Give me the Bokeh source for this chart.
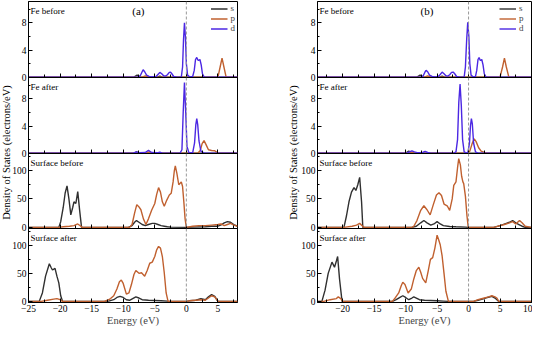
import math
from bokeh.plotting import figure
from bokeh.layouts import row, column, Spacer
from bokeh.models import Range1d, SingleIntervalTicker, Span, Label
from bokeh.embed import file_html
from bokeh.resources import INLINE

FONT = "Liberation Serif"
S_COL, P_COL, D_COL = "#303030", "#c0602f", "#4b27e3"

# ---------------- Panel (a) data ----------------
E_A_FEB_S = [-25, -8.3, -7.8, -7.3, -4.6, -4.2, -3.8, 8.1]
Y_A_FEB_S = [0, 0, 0.3, 0, 0, 0.15, 0, 0]
E_A_FEB_P = [-25, -7.0, -6.5, -6.0, 5.0, 5.35, 5.65, 5.95, 6.3, 8.1]
Y_A_FEB_P = [0, 0, 0.2, 0, 0, 1.5, 2.8, 1.5, 0, 0]
E_A_FEB_D = [-25, -7.7, -7.3, -7.0, -6.85, -6.6, -6.3, -5.9, -5.4, -4.8, -4.5, -4.2, -3.9, -3.6, -3.3,
             -3.0, -2.7, -2.5, -2.3, -2.0, -1.5, -0.8, -0.6, -0.45, -0.3, -0.15, 0.0, 0.2, 0.5, 1.0,
             1.25, 1.45, 1.65, 1.85, 2.0, 2.15, 2.35, 2.55, 2.8, 3.2, 8.1]
Y_A_FEB_D = [0, 0, 0.2, 0.8, 1.1, 0.8, 0.3, 0.1, 0.05, 0.1, 0.4, 0.7, 0.5, 0.2, 0.15,
             0.35, 0.7, 0.75, 0.5, 0.1, 0, 0, 1.5, 5.5, 8.0, 6.0, 2.0, 0.3, 0.05, 0.1,
             1.0, 2.6, 2.9, 2.5, 2.5, 2.6, 1.8, 0.5, 0.05, 0, 0]

E_A_FEA_S = [-25, -8.3, -7.9, -7.5, 8.1]
Y_A_FEA_S = [0, 0, 0.2, 0, 0]
E_A_FEA_P = [-25, -6.3, -5.9, -5.5, 1.8, 2.2, 2.5, 2.8, 3.1, 3.5, 4.0, 4.5, 5.0, 8.1]
Y_A_FEA_P = [0, 0, 0.2, 0, 0, 0.4, 1.4, 1.85, 1.3, 0.5, 0.4, 0.35, 0, 0]
E_A_FEA_D = [-25, -8.4, -7.9, -7.4, -6.5, -6.0, -5.5, -4.6, -4.2, -3.8, -1.0, -0.7, -0.5, -0.3,
             -0.1, 0.1, 0.4, 1.0, 1.3, 1.5, 1.65, 1.8, 2.0, 2.3, 2.8, 8.1]
Y_A_FEA_D = [0, 0, 0.2, 0.05, 0.1, 0.4, 0.1, 0.05, 0.15, 0, 0, 0.5, 6.0, 10.4,
             6.0, 1.0, 0.05, 0.05, 1.5, 4.2, 5.1, 4.2, 1.8, 0.3, 0, 0]

E_A_SB_S = [-25, -20.2, -19.9, -19.5, -19.2, -18.9, -18.6, -18.3, -18.0, -17.8, -17.5, -17.2, -16.9,
            -16.6, -9.2, -8.6, -8.2, -7.9, -7.5, -7.0, -6.5, -6.0, -5.4, -5.0, -4.5, -4.0, -3.5,
            -3.0, -2.5, 0.0, 1.0, 3.0, 4.0, 5.0, 5.6, 6.0, 6.5, 7.0, 7.5, 8.1]
Y_A_SB_S = [0, 0, 10, 35, 60, 73, 50, 22, 35, 45, 42, 63, 30,
            0, 0, 3, 9, 12, 9, 5, 3, 5, 7, 7, 5, 3, 2,
            1, 0.5, 0, 0.5, 1, 2, 2, 5, 8, 10, 9, 5, 2]
E_A_SB_P = [-25, -20.2, -19.5, -18.5, -17.8, -17.2, -16.7, -16.5, -9.0, -8.6, -8.2, -7.85, -7.5,
            -7.2, -6.8, -6.4, -6.0, -5.5, -5.0, -4.7, -4.4, -4.1, -3.8, -3.5, -3.1, -2.7, -2.4,
            -2.1, -1.9, -1.75, -1.5, -1.2, -0.95, -0.8, -0.6, -0.4, -0.2, 0.0, 1.0, 2.0, 3.0,
            4.0, 5.0, 5.5, 6.0, 6.5, 7.0, 7.5, 8.1]
Y_A_SB_P = [0, 0, 1, 2, 3, 6, 2, 0, 0, 5, 25, 40, 36,
            31, 15, 5, 15, 30, 42, 58, 70, 62, 45, 37, 48, 57, 60,
            80, 100, 108, 95, 75, 78, 80, 72, 45, 15, 0, 2, 3, 3,
            4, 5, 6, 3, 5, 7, 4, 2]

E_A_SA_S = [-25, -23.3, -22.8, -22.3, -21.7, -21.4, -21.2, -20.8, -20.5, -20.2, -19.9, -19.6,
            -12.3, -11.5, -11.0, -10.5, -10.0, -9.5, -9.0, -8.5, -8.0, -7.5, -7.0, -6.0, -5.0,
            -4.0, -3.0, -2.8, 0.0, 0.5, 1.5, 2.3, 3.0, 3.5, 4.0, 4.5, 5.0, 8.1]
Y_A_SA_S = [0, 0, 15, 45, 67, 60, 56, 59, 45, 33, 10, 0,
            0.5, 3, 7, 9, 7, 3, 2, 5, 8, 6, 3, 2, 1.5,
            1, 0.5, 0, 0, 1, 2, 5, 3, 8, 12, 9, 0, 0]
E_A_SA_P = [-25, -23.0, -22.0, -21.0, -20.5, -20.0, -19.6, -13.0, -12.5, -12.0, -11.5, -11.0,
            -10.6, -10.3, -10.0, -9.5, -9.1, -8.7, -8.3, -8.0, -7.5, -7.1, -6.6, -6.2, -5.8,
            -5.4, -5.0, -4.7, -4.4, -4.1, -3.8, -3.5, -3.2, -2.9, 0.0, 0.5, 1.5, 2.5, 3.0, 3.5,
            4.0, 4.5, 5.0, 8.1]
Y_A_SA_P = [0, 0, 2, 4, 5, 3, 0, 0, 2, 5, 10, 22,
            35, 38, 32, 13, 15, 30, 48, 55, 50, 51, 45, 55, 68,
            70, 80, 92, 98, 95, 80, 51, 15, 0, 0, 1, 2, 3, 2, 6,
            10, 8, 0, 0]

# ---------------- Panel (b) data ----------------
E_B_FEB_S = [-24, -8.2, -7.7, -7.2, -4.6, -4.2, -3.8, 10]
Y_B_FEB_S = [0, 0, 0.3, 0, 0, 0.15, 0, 0]
E_B_FEB_P = [-24, -7.0, -6.5, -6.0, 5.0, 5.4, 5.7, 6.0, 6.4, 10]
Y_B_FEB_P = [0, 0, 0.2, 0, 0, 1.5, 2.8, 1.5, 0, 0]
E_B_FEB_D = [-24, -7.6, -7.2, -6.9, -6.75, -6.5, -6.2, -5.8, -5.3, -4.8, -4.5, -4.2, -3.9, -3.6,
             -3.3, -3.0, -2.7, -2.45, -2.2, -1.9, -1.4, -0.7, -0.5, -0.3, -0.13, 0.05, 0.2, 0.4,
             0.7, 1.1, 1.3, 1.5, 1.67, 1.85, 2.0, 2.1, 2.3, 2.5, 2.75, 3.2, 10]
Y_B_FEB_D = [0, 0, 0.2, 0.8, 1.0, 0.8, 0.3, 0.1, 0.05, 0.1, 0.4, 0.75, 0.5, 0.2,
             0.15, 0.35, 0.7, 0.75, 0.5, 0.1, 0, 0, 1.5, 5.5, 8.1, 6.0, 2.0, 0.3,
             0.05, 0.1, 1.0, 2.6, 2.9, 2.5, 2.5, 2.6, 1.8, 0.5, 0.05, 0, 0]

E_B_FEA_S = [-24, -10.0, -9.5, -9.0, 10]
Y_B_FEA_S = [0, 0, 0.3, 0, 0]
E_B_FEA_P = [-24, -9.5, -9.0, -8.5, -0.2, 0.2, 0.6, 0.9, 1.2, 1.6, 2.0, 2.5, 3.0, 10]
Y_B_FEA_P = [0, 0, 0.15, 0, 0, 0.3, 1.5, 2.1, 1.7, 0.8, 0.3, 0.1, 0, 0]
E_B_FEA_D = [-24, -9.8, -9.4, -9.0, -8.6, -8.0, -7.3, -6.9, -6.5, -6.0, -2.3, -2.0, -1.75, -1.55,
             -1.35, -1.15, -0.95, -0.7, -0.3, -0.1, 0.15, 0.3, 0.45, 0.6, 0.8, 1.1, 1.5, 10]
Y_B_FEA_D = [0, 0, 0.2, 0.35, 0.2, 0.05, 0.1, 0.25, 0.1, 0, 0, 0.2, 2.0, 7.5,
             10.2, 7.0, 2.0, 0.2, 0, 0.1, 1.5, 4.0, 5.1, 4.3, 1.5, 0.2, 0, 0]

E_B_SB_S = [-24, -19.8, -19.4, -19.0, -18.6, -18.2, -17.9, -17.6, -17.3, -17.0, -16.8, -9.0, -8.3,
            -7.6, -7.1, -6.6, -6.0, -5.5, -5.0, -4.5, -4.0, -3.0, -2.0, -0.5, 0.0, 4.0, 5.0, 6.0,
            6.5, 7.0, 7.5, 8.0, 8.5, 9.0, 10]
Y_B_SB_S = [0, 0, 20, 45, 62, 70, 65, 75, 88, 45, 0, 0, 2,
            8, 12, 8, 4, 6, 10, 6, 3, 1.5, 1, 0.5, 0, 0, 3, 7,
            9, 12, 8, 5, 2, 0, 0]
E_B_SB_P = [-24, -19.8, -18.5, -17.8, -17.3, -16.9, -16.6, -9.0, -8.7, -8.2, -7.6, -7.1, -6.6,
            -6.1, -5.6, -5.1, -4.7, -4.3, -3.9, -3.4, -3.0, -2.6, -2.35, -2.0, -1.75, -1.56, -1.3,
            -1.1, -0.9, -0.77, -0.5, -0.25, -0.05, 4.0, 5.0, 5.7, 6.5, 7.0, 7.5, 8.1, 8.5, 9.0, 10]
Y_B_SB_P = [0, 0, 2, 4, 7, 3, 0, 0, 2, 12, 30, 38, 31,
            22, 40, 57, 61, 56, 41, 38, 30, 50, 74, 80, 105, 121, 110,
            90, 80, 77, 55, 20, 0, 0, 3, 5, 8, 10, 6, 12, 8, 2, 0]

E_B_SA_S = [-24, -23.3, -22.8, -22.3, -21.7, -21.3, -21.0, -20.8, -20.5, -20.1, -12.1, -11.5,
            -10.9, -10.45, -10.0, -9.5, -9.0, -8.7, -8.3, -7.8, -7.0, -6.0, -5.0, -4.0, -3.2,
            0.0, 0.8, 1.5, 2.5, 3.0, 3.7, 4.2, 4.8, 10]
Y_B_SA_S = [0, 0, 20, 50, 70, 61, 72, 80, 40, 0, 0, 3,
            7, 10, 7, 3, 6, 8, 6, 3, 2, 1.5, 1, 0.5, 0,
            0, 0, 2, 5, 7, 9, 6, 0, 0]
E_B_SA_P = [-24, -23.0, -22.0, -21.0, -20.7, -20.3, -20.0, -12.1, -11.6, -11.1, -10.7, -10.45,
            -10.1, -9.6, -9.1, -8.7, -8.3, -7.9, -7.6, -7.3, -6.8, -6.4, -6.06, -5.7, -5.35,
            -5.0, -4.75, -4.5, -4.2, -3.9, -3.6, -3.2, 0.0, 0.8, 1.5, 2.5, 3.2, 3.7, 4.2, 4.5,
            4.8, 10]
Y_B_SA_P = [0, 0, 3, 5, 8, 5, 0, 0, 7, 15, 28, 34,
            30, 15, 22, 40, 55, 61, 52, 41, 33, 55, 75, 78, 95,
            118, 110, 101, 81, 50, 18, 0, 0, 0, 3, 6, 8, 10, 8, 6,
            0, 0]

SUB_TITLES = ["Fe before", "Fe after", "Surface before", "Surface after"]
SUB_KINDS = ["fe", "fe", "surf", "surf"]
Y_LIMITS = {"fe": (-0.05, 11.15), "surf": (-2.0, 130.0)}
Y_INTERVAL = {"fe": 4, "surf": 50}
ORBITALS = ["s", "p", "d"]
COLORS = [S_COL, P_COL, D_COL]
X_TICKS = [-25, -20, -15, -10, -5, 0, 5, 10]
X_TICK_LABELS = ["\u221225", "\u221220", "\u221215", "\u221210", "\u22125", "0", "5", "10"]
FERMI = 0
YLABEL = "Density of States (electrons/eV)"
XLABEL = "Energy (eV)"

PANEL_A = [
    [(E_A_FEB_S, Y_A_FEB_S), (E_A_FEB_P, Y_A_FEB_P), (E_A_FEB_D, Y_A_FEB_D)],
    [(E_A_FEA_S, Y_A_FEA_S), (E_A_FEA_P, Y_A_FEA_P), (E_A_FEA_D, Y_A_FEA_D)],
    [(E_A_SB_S, Y_A_SB_S), (E_A_SB_P, Y_A_SB_P)],
    [(E_A_SA_S, Y_A_SA_S), (E_A_SA_P, Y_A_SA_P)],
]
PANEL_B = [
    [(E_B_FEB_S, Y_B_FEB_S), (E_B_FEB_P, Y_B_FEB_P), (E_B_FEB_D, Y_B_FEB_D)],
    [(E_B_FEA_S, Y_B_FEA_S), (E_B_FEA_P, Y_B_FEA_P), (E_B_FEA_D, Y_B_FEA_D)],
    [(E_B_SB_S, Y_B_SB_S), (E_B_SB_P, Y_B_SB_P)],
    [(E_B_SA_S, Y_B_SA_S), (E_B_SA_P, Y_B_SA_P)],
]

FRAME_H = [76, 76, 75, 75]
TOP_B, BOT_B, GAP = 1, 25, 6   # GAP: overlap band so the "0" tick labels are not clipped
TOTAL_H = TOP_B + sum(FRAME_H) + BOT_B
YLAB_W, YLAB_OVERLAP = 14, 5


def make_sub(i, curves, xr, fig_w, left_b, right_b, letter, letter_x, label_w):
    top, bottom = i == 0, i == 3
    kind = SUB_KINDS[i]
    lo, hi = Y_LIMITS[kind]
    yr = Range1d(lo, hi)
    h = FRAME_H[i] + (TOP_B if top else 0) + (BOT_B if bottom else GAP)
    p = figure(width=fig_w, height=h, x_range=xr, y_range=yr,
               toolbar_location=None, output_backend="svg", min_border=0,
               min_border_left=left_b, min_border_right=right_b,
               min_border_top=TOP_B if top else 0,
               min_border_bottom=BOT_B if bottom else GAP,
               margin=(0 if top else -GAP, 0, 0, 0))
    p.outline_line_color = "black"
    p.outline_line_width = 1
    p.grid.visible = False
    p.background_fill_alpha = 0
    p.border_fill_alpha = 0

    xa = p.xaxis[0]
    xa.ticker = SingleIntervalTicker(interval=5, num_minor_ticks=2)
    xa.major_tick_in, xa.major_tick_out = 4, 0
    xa.minor_tick_in, xa.minor_tick_out = 3, 0
    xa.major_label_overrides = dict(zip(X_TICKS, X_TICK_LABELS))
    xa.major_label_text_font = FONT
    xa.major_label_text_color = "black"
    if bottom:
        xa.major_label_text_font_size = "9.5px"
        xa.major_label_standoff = 2
        xa.axis_label = XLABEL
        xa.axis_label_text_font = FONT
        xa.axis_label_text_font_size = "10.5px"
        xa.axis_label_text_font_style = "normal"
        xa.axis_label_standoff = 0
    else:
        xa.major_label_text_font_size = "0px"
        xa.major_label_standoff = 0

    ya = p.yaxis[0]
    ya.ticker = SingleIntervalTicker(interval=Y_INTERVAL[kind], num_minor_ticks=2)
    ya.major_tick_in, ya.major_tick_out = 4, 0
    ya.minor_tick_in, ya.minor_tick_out = 2, 0
    ya.major_label_text_font = FONT
    ya.major_label_text_font_size = "9.5px"
    ya.major_label_text_color = "black"
    ya.major_label_standoff = 2

    for j, (xs, ys) in enumerate(curves):
        kw = dict(legend_label=ORBITALS[j]) if top else {}
        p.line(xs, ys, line_color=COLORS[j], line_width=1.4, **kw)

    p.add_layout(Span(location=FERMI, dimension="height", line_color="#999999",
                      line_dash="3 2", line_width=1))
    p.add_layout(Label(x=xr.start, y=hi, x_offset=2, y_offset=-9, text=SUB_TITLES[i],
                       text_font=FONT, text_font_size="9px", text_baseline="middle",
                       text_align="left", text_color="black"))
    if top:
        p.add_layout(Label(x=letter_x, y=hi, y_offset=-9, text=letter, text_font=FONT,
                           text_font_size="11px", text_baseline="middle", text_align="center",
                           text_color="black"))
        lg = p.legend[0]
        lg.location = "top_right"
        lg.border_line_color = None
        lg.background_fill_alpha = 0
        lg.label_text_font = FONT
        lg.label_text_font_size = "9px"
        lg.glyph_width = 17
        lg.glyph_height = 9
        lg.label_height = 9
        lg.label_width = label_w
        lg.spacing = 0
        lg.padding = 2
        lg.margin = 2
        lg.label_standoff = 3
    return p


def ylabel_fig():
    f = figure(width=YLAB_W, height=TOTAL_H, x_range=Range1d(0, YLAB_W),
               y_range=Range1d(0, TOTAL_H), toolbar_location=None, output_backend="svg",
               min_border=0, x_axis_type=None, y_axis_type=None,
               margin=(0, -YLAB_OVERLAP, 0, 0))
    f.outline_line_color = None
    f.background_fill_alpha = 0
    f.border_fill_alpha = 0
    center_from_top = TOP_B + sum(FRAME_H) / 2
    f.add_layout(Label(x=YLAB_W / 2 - 1, y=TOTAL_H - center_from_top, angle=math.pi / 2,
                       text=YLABEL, text_font=FONT, text_font_size="10.5px",
                       text_align="center", text_baseline="middle", text_color="black"))
    return f


xr_a = Range1d(-25, 8.1)
xr_b = Range1d(-24, 10)
col_a = column(*[make_sub(i, PANEL_A[i], xr_a, 230, 17, 2, "(a)", -7.6, 4) for i in range(4)],
               spacing=0)
col_b = column(*[make_sub(i, PANEL_B[i], xr_b, 236, 21, 1, "(b)", -6.6, 10) for i in range(4)],
               spacing=0)

layout = row(ylabel_fig(), col_a, Spacer(width=48, height=TOTAL_H), ylabel_fig(), col_b,
             spacing=0)

open("out.html", "w").write(file_html(layout, INLINE))
